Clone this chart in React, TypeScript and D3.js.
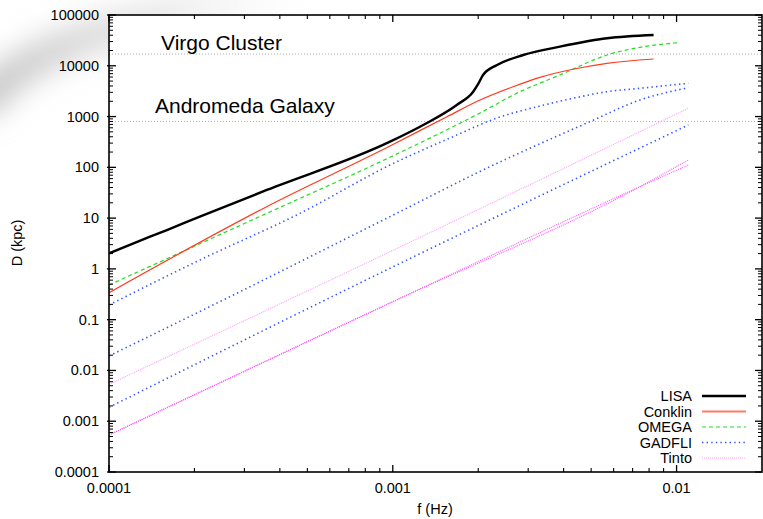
import React from "react";
import * as d3 from "d3";

// ---------- data (f in Hz, D in kpc) ----------
const LISA_F = [1e-4, 1.22e-4, 1.6e-4, 2.09e-4, 3.6e-4, 9.78e-4, 1.28e-3, 1.68e-3, 1.92e-3, 2.0e-3, 2.08e-3, 2.33e-3, 2.88e-3, 3.88e-3, 5.69e-3, 8.3e-3];
const LISA_D = [2.03, 3.19, 5.83, 10.7, 35.8, 320, 682, 1690, 3090, 4380, 6580, 10360, 16300, 23800, 34800, 40400];

const CONKLIN_F = [1e-4, 3.595e-4, 9.78e-4, 1.552e-3, 2.029e-3, 2.652e-3, 3.302e-3, 4.315e-3, 5.686e-3, 8.3e-3];
const CONKLIN_D = [0.34, 16.8, 263, 993, 2120, 3870, 5930, 8530, 11190, 13600];

const OMEGA_F = [1e-4, 3.595e-4, 9.78e-4, 2.029e-3, 2.807e-3, 3.88e-3, 5.686e-3, 7.43e-3, 1.01e-2];
const OMEGA_D = [0.482, 12.4, 158, 1175, 3090, 6580, 16300, 23100, 28500];

const GADFLI1_F = [1e-4, 2.092e-4, 4.71e-4, 9.78e-4, 1.63e-3, 2.33e-3, 3.3e-3, 4.32e-3, 5.69e-3, 7.43e-3, 1.1e-2];
const GADFLI1_D = [0.195, 1.5, 12.4, 111, 401, 937, 1614, 2290, 3090, 3600, 4520];

const GADFLI2_F = [1e-4, 2.669e-4, 9.78e-4, 2.2e-3, 4.95e-3, 7.43e-3, 1.1e-2];
const GADFLI2_D = [0.0193, 0.284, 10.7, 103, 792, 2120, 3700];

const GADFLI3_F = [1e-4, 9.78e-4, 1.1e-2];
const GADFLI3_D = [0.00188, 1.03, 682];

const TINTO1_F = [1e-4, 9.78e-4, 1.1e-2];
const TINTO1_D = [0.00533, 2.18, 1455];

const TINTO2_F = [1e-4, 1.03e-3, 7.43e-3, 1.1e-2];
const TINTO2_D = [0.000536, 0.244, 41.6, 140];

const TINTO3_F = [1e-4, 1.03e-3, 7.43e-3, 1.1e-2];
const TINTO3_D = [0.000536, 0.244, 41.6, 111];

const X_TICKS = [1e-4, 1e-3, 1e-2];
const X_TICK_LABELS = ["0.0001", "0.001", "0.01"];
const Y_TICKS = [1e-4, 1e-3, 1e-2, 1e-1, 1, 10, 100, 1000, 10000, 100000];
const Y_TICK_LABELS = ["0.0001", "0.001", "0.01", "0.1", "1", "10", "100", "1000", "10000", "100000"];

const REF_LINES = [17000, 800];
const REF_LABELS = ["Virgo Cluster", "Andromeda Galaxy"];

const LEGEND_NAMES = ["LISA", "Conklin", "OMEGA", "GADFLI", "Tinto"];

// ---------- styles ----------
const STYLES: Record<string, { color: string; width: number; dash?: string }> = {
  LISA: { color: "#000000", width: 2.4 },
  Conklin: { color: "#ff3a1e", width: 1.2 },
  OMEGA: { color: "#22dd22", width: 1.2, dash: "4,3" },
  GADFLI: { color: "#3355ff", width: 1.6, dash: "1.4,3.2" },
  Tinto: { color: "#ff55ff", width: 1.1, dash: "1,1" },
};

const SERIES = [
  { name: "Tinto", f: TINTO1_F, d: TINTO1_D, light: true },
  { name: "Tinto", f: TINTO2_F, d: TINTO2_D },
  { name: "Tinto", f: TINTO3_F, d: TINTO3_D },
  { name: "GADFLI", f: GADFLI3_F, d: GADFLI3_D },
  { name: "GADFLI", f: GADFLI2_F, d: GADFLI2_D },
  { name: "GADFLI", f: GADFLI1_F, d: GADFLI1_D },
  { name: "OMEGA", f: OMEGA_F, d: OMEGA_D },
  { name: "Conklin", f: CONKLIN_F, d: CONKLIN_D },
  { name: "LISA", f: LISA_F, d: LISA_D },
];

const W = 763;
const H = 519;
const FONT = "'Liberation Sans', Arial, Helvetica, sans-serif";

export default function App() {
  const x = d3.scaleLog().domain([1e-4, 2e-2]).range([109, 762]);
  const y = d3.scaleLog().domain([1e-4, 1e5]).range([472, 15]);
  const [x0, x1] = x.range();
  const [y0, y1] = y.range();

  const line = d3
    .line<[number, number]>()
    .x((p) => x(p[0]))
    .y((p) => y(p[1]))
    .curve(d3.curveMonotoneX);

  const xMinor: number[] = [];
  X_TICKS.forEach((t) => {
    for (let k = 2; k <= 9; k++) {
      const v = t * k;
      if (v < 2e-2 * 0.999) xMinor.push(v);
    }
  });
  const yMinor: number[] = [];
  Y_TICKS.slice(0, -1).forEach((t) => {
    for (let k = 2; k <= 9; k++) yMinor.push(t * k);
  });

  const MAJ = 7;
  const MIN = 4;

  return (
    <svg
      width={W}
      height={H}
      style={{ position: "absolute", left: 0, top: 0, background: "#fff" }}
      fontFamily={FONT}
    >
      <defs>
        <filter id="blur" x="-50%" y="-50%" width="200%" height="200%">
          <feGaussianBlur stdDeviation="14" />
        </filter>
        <linearGradient id="swoosh" x1="0" y1="0" x2="1" y2="0">
          <stop offset="0" stopColor="#bdbdbd" stopOpacity="0.9" />
          <stop offset="0.5" stopColor="#d6d6d6" stopOpacity="0.6" />
          <stop offset="1" stopColor="#ffffff" stopOpacity="0" />
        </linearGradient>
        <clipPath id="plot">
          <rect x={x0} y={y1} width={x1 - x0} height={y0 - y1} />
        </clipPath>
      </defs>

      {/* slide background swoosh */}
      <rect x={0} y={0} width={W} height={H} fill="#ffffff" />
      <path
        d="M -20 110 Q 30 20 340 -8"
        fill="none"
        stroke="url(#swoosh)"
        strokeWidth={34}
        filter="url(#blur)"
      />
      <rect x={x0} y={y1} width={x1 - x0} height={y0 - y1} fill="#ffffff" />

      {/* reference lines */}
      {REF_LINES.map((v, i) => (
        <line
          key={"ref" + i}
          x1={x0}
          x2={x1}
          y1={y(v)}
          y2={y(v)}
          stroke="#b0b0b0"
          strokeWidth={1}
          strokeDasharray="1,2"
        />
      ))}
      <text x={161} y={50} fontSize={21} fill="#000">
        {REF_LABELS[0]}
      </text>
      <text x={155} y={113} fontSize={21} fill="#000">
        {REF_LABELS[1]}
      </text>

      {/* series */}
      <g clipPath="url(#plot)">
        {SERIES.map((s, i) => {
          const st = STYLES[s.name];
          const pts = s.f.map((f, j) => [f, s.d[j]] as [number, number]);
          return (
            <path
              key={"s" + i}
              d={line(pts) || ""}
              fill="none"
              stroke={(s as any).light ? "#ff99ff" : st.color}
              strokeWidth={st.width}
              strokeDasharray={st.dash}
              strokeLinejoin="round"
            />
          );
        })}
      </g>

      {/* frame */}
      <rect
        x={x0}
        y={y1}
        width={x1 - x0}
        height={y0 - y1}
        fill="none"
        stroke="#000"
        strokeWidth={1.6}
      />

      {/* x ticks */}
      {X_TICKS.map((t, i) => (
        <g key={"xt" + i}>
          <line x1={x(t)} x2={x(t)} y1={y0} y2={y0 - MAJ} stroke="#000" strokeWidth={1.3} />
          <line x1={x(t)} x2={x(t)} y1={y1} y2={y1 + MAJ} stroke="#000" strokeWidth={1.3} />
          <text x={x(t)} y={493} fontSize={14.5} textAnchor="middle" fill="#000">
            {X_TICK_LABELS[i]}
          </text>
        </g>
      ))}
      {xMinor.map((t, i) => (
        <g key={"xm" + i}>
          <line x1={x(t)} x2={x(t)} y1={y0} y2={y0 - MIN} stroke="#000" strokeWidth={1.1} />
          <line x1={x(t)} x2={x(t)} y1={y1} y2={y1 + MIN} stroke="#000" strokeWidth={1.1} />
        </g>
      ))}

      {/* y ticks */}
      {Y_TICKS.map((t, i) => (
        <g key={"yt" + i}>
          <line x1={x0 - 2} x2={x0 + MAJ} y1={y(t)} y2={y(t)} stroke="#000" strokeWidth={1.3} />
          <line x1={x1} x2={x1 - MAJ} y1={y(t)} y2={y(t)} stroke="#000" strokeWidth={1.3} />
          <text x={99} y={y(t) + 5} fontSize={14.5} textAnchor="end" fill="#000">
            {Y_TICK_LABELS[i]}
          </text>
        </g>
      ))}
      {yMinor.map((t, i) => (
        <g key={"ym" + i}>
          <line x1={x0} x2={x0 + MIN} y1={y(t)} y2={y(t)} stroke="#000" strokeWidth={1} />
          <line x1={x1} x2={x1 - MIN} y1={y(t)} y2={y(t)} stroke="#000" strokeWidth={1} />
        </g>
      ))}

      {/* axis labels */}
      <text x={435} y={514} fontSize={14.5} textAnchor="middle" fill="#000">
        f (Hz)
      </text>
      <text
        transform="translate(22,243) rotate(-90)"
        fontSize={14.5}
        textAnchor="middle"
        fill="#000"
      >
        D (kpc)
      </text>

      {/* legend */}
      {LEGEND_NAMES.map((n, i) => {
        const st = STYLES[n];
        const ly = 396 + i * 15.5;
        return (
          <g key={"lg" + i}>
            <text x={692} y={ly + 5} fontSize={14.5} textAnchor="end" fill="#000">
              {n}
            </text>
            <line
              x1={702}
              x2={746}
              y1={ly}
              y2={ly}
              stroke={n === "Tinto" ? "#ff99ff" : n === "Conklin" ? "#ff7a66" : st.color}
              strokeWidth={st.width + (n === "Conklin" ? 0.8 : 0)}
              strokeDasharray={st.dash}
            />
          </g>
        );
      })}
    </svg>
  );
}
